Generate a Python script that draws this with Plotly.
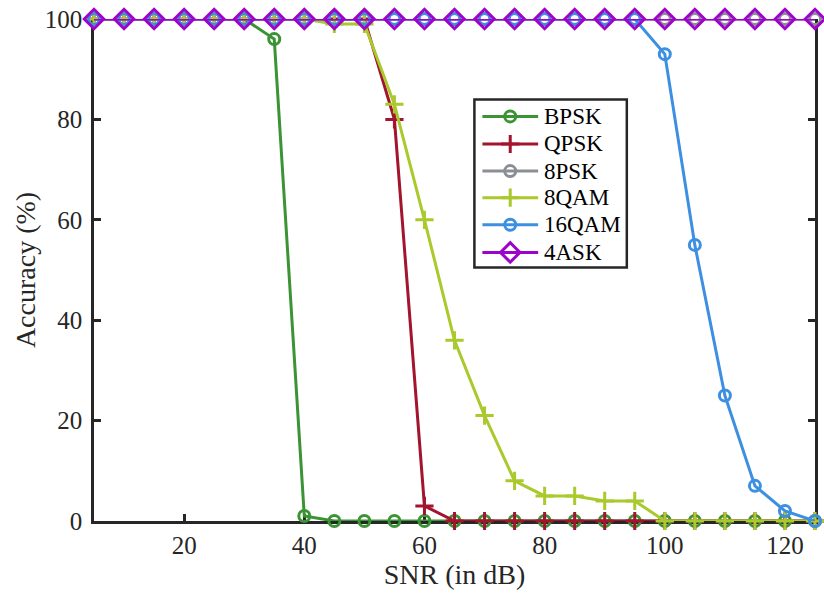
import plotly.graph_objects as go

snr = [5, 10, 15, 20, 25, 30, 35, 40, 45, 50, 55, 60, 65, 70, 75, 80, 85, 90, 95, 100, 105, 110, 115, 120, 125]
bpsk = [100, 100, 100, 100, 100, 100, 96, 1, 0, 0, 0, 0, 0, 0, 0, 0, 0, 0, 0, 0, 0, 0, 0, 0, 0]
qpsk = [100, 100, 100, 100, 100, 100, 100, 100, 100, 100, 80, 3, 0, 0, 0, 0, 0, 0, 0, 0, 0, 0, 0, 0, 0]
psk8 = [100] * 25
qam8 = [100, 100, 100, 100, 100, 100, 100, 100, 99, 99, 83, 60, 36, 21, 8, 5, 5, 4, 4, 0, 0, 0, 0, 0, 0]
qam16 = [100, 100, 100, 100, 100, 100, 100, 100, 100, 100, 100, 100, 100, 100, 100, 100, 100, 100, 100, 93, 55, 25, 7, 2, 0]
ask4 = [100] * 25

names = ["BPSK", "QPSK", "8PSK", "8QAM", "16QAM", "4ASK"]
values = [bpsk, qpsk, psk8, qam8, qam16, ask4]
colors = ["#3b9433", "#a3142f", "#8b8e94", "#a9c92c", "#3d8fe2", "#9c05c9"]
symbols = ["circle-open", "cross-thin-open", "circle-open", "cross-thin-open", "circle-open", "diamond-open"]
msizes = [11, 13, 11, 13, 11, 15]

FONT = "Liberation Serif"
INK = "#262626"
X_RANGE = [5, 125]
Y_RANGE = [0, 100]

fig = go.Figure()
for name, vals, col, sym, sz in zip(names, values, colors, symbols, msizes):
    fig.add_trace(go.Scatter(
        x=snr, y=vals, name=name, mode="lines+markers", showlegend=False,
        line=dict(color=col, width=3),
        marker=dict(symbol=sym, size=sz, color=col, line=dict(color=col, width=3)),
        cliponaxis=False,
    ))

# custom legend, placed in plot-area fractions
def fx(f):
    return X_RANGE[0] + f * (X_RANGE[1] - X_RANGE[0])

def fy(f):
    return Y_RANGE[0] + f * (Y_RANGE[1] - Y_RANGE[0])

leg_box = dict(x0=0.5276, x1=0.739, y0=0.505, y1=0.8396)
leg_line_x = [0.5387, 0.616]
leg_mark_x = 0.5773
leg_text_x = 0.6215
leg_rows = [0.806, 0.751, 0.697, 0.644, 0.590, 0.535]

fig.add_shape(type="rect", xref="paper", yref="paper", **leg_box,
              line=dict(color=INK, width=2.5), fillcolor="white", layer="below")
for name, col, sym, sz, yr in zip(names, colors, symbols, msizes, leg_rows):
    fig.add_trace(go.Scatter(
        x=[fx(v) for v in leg_line_x], y=[fy(yr), fy(yr)], mode="lines",
        line=dict(color=col, width=3), showlegend=False, hoverinfo="skip"))
    fig.add_trace(go.Scatter(
        x=[fx(leg_mark_x)], y=[fy(yr)], mode="markers",
        marker=dict(symbol=sym, size=sz, color=col, line=dict(color=col, width=3)),
        showlegend=False, hoverinfo="skip"))
    fig.add_annotation(x=leg_text_x, y=yr, xref="paper", yref="paper", text=name,
                       showarrow=False, xanchor="left", yanchor="middle",
                       font=dict(family=FONT, size=23, color="black"))

axis_common = dict(
    showline=True, linecolor=INK, linewidth=2.5,
    ticks="inside", ticklen=7, tickwidth=2.5, tickcolor=INK,
    showgrid=False, zeroline=False, layer="below traces",
    tickfont=dict(family=FONT, size=25, color=INK),
    title_font=dict(family=FONT, size=28, color=INK),
)

fig.update_layout(
    width=824, height=597,
    margin=dict(l=94, r=6, t=16, b=76),
    plot_bgcolor="white", paper_bgcolor="white",
    xaxis=dict(range=X_RANGE, tickvals=[20, 40, 60, 80, 100, 120], mirror=False,
               title=dict(text="SNR (in dB)", standoff=4), **axis_common),
    yaxis=dict(range=Y_RANGE, tickvals=[0, 20, 40, 60, 80, 100], mirror="ticks",
               ticklabelstandoff=4,
               title=dict(text="Accuracy (%)", standoff=1), **axis_common),
    showlegend=False,
)

fig.write_html("out.html")
